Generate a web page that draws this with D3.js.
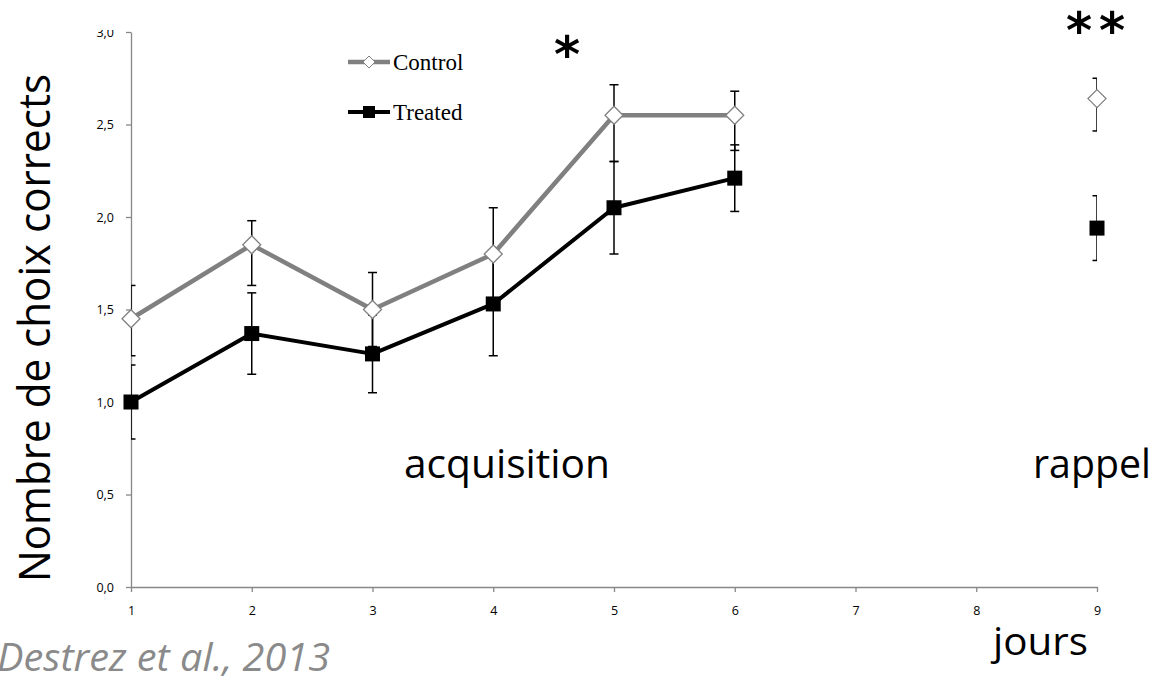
<!DOCTYPE html>
<html>
<head>
<meta charset="utf-8">
<title>Nombre de choix corrects</title>
<script src="https://d3js.org/d3.v7.min.js"></script>
<style>
  * { margin: 0; padding: 0; }
  body { background: #fff; }
  svg { display: block; }
</style>
</head>
<body>
<div id="chart"></div>
<script>
// valeurs
const days = [1, 2, 3, 4, 5, 6, 9];
const control = [1.45, 1.85, 1.50, 1.80, 2.55, 2.55, 2.64];
const controlErrUp = [0.18, 0.13, 0.20, 0.25, 0.165, 0.13, 0.11];
const controlErrDown = [0.20, 0.22, 0.20, 0.25, 0.25, 0.19, 0.175];
const treated = [1.00, 1.37, 1.26, 1.53, 2.05, 2.21, 1.94];
const treatedErrUp = [0.20, 0.22, 0.21, 0.27, 0.25, 0.18, 0.175];
const treatedErrDown = [0.20, 0.22, 0.21, 0.28, 0.25, 0.18, 0.175];
const acquisitionDays = 6;   // la ligne s'arrête au jour 6
const xTicks = [1, 2, 3, 4, 5, 6, 7, 8, 9];
const yTicks = [0, 0.5, 1, 1.5, 2, 2.5, 3];

const width = 1153, height = 685;
const axisColor = "#878787";

const svg = d3.select("#chart").append("svg")
  .attr("width", width)
  .attr("height", height);

const x = d3.scaleLinear().domain([1, 9]).range([131, 1097]);
const y = d3.scaleLinear().domain([0, 3]).range([587, 32]);

const defs = svg.append("defs");
defs.append("clipPath").attr("id", "clipTop")
  .append("rect").attr("x", 0).attr("y", 30).attr("width", width).attr("height", height);
defs.append("clipPath").attr("id", "clipPlot")
  .append("rect").attr("x", x(1)).attr("y", 0).attr("width", x(9) - x(1)).attr("height", height);

const chart = svg.append("g").attr("clip-path", "url(#clipTop)");

const fmt = d => d.toFixed(1).replace(".", ",");

// axes
const yAxis = chart.append("g")
  .attr("transform", `translate(${x(1)},0)`)
  .call(d3.axisLeft(y).tickValues(yTicks).tickFormat(fmt).tickSize(5).tickSizeOuter(0).tickPadding(12));
const xAxis = chart.append("g")
  .attr("transform", `translate(0,${y(0)})`)
  .call(d3.axisBottom(x).tickValues(xTicks).tickFormat(d3.format("d")).tickSize(5).tickSizeOuter(0).tickPadding(14));

[xAxis, yAxis].forEach(g => {
  g.selectAll("path, line").attr("stroke", axisColor).attr("stroke-width", 1.3);
  g.selectAll("text")
    .attr("fill", "#000")
    .style("font-family", "'Open Sans', sans-serif")
    .style("font-size", "12.5px");
});

// séries
const series = [
  { name: "Control", values: control, up: controlErrUp, down: controlErrDown, color: "#808080", width: 4.5 },
  { name: "Treated", values: treated, up: treatedErrUp, down: treatedErrDown, color: "#000000", width: 4 }
];
series.forEach(s => {
  s.points = days.map((d, i) => ({ day: d, v: s.values[i], lo: s.values[i] - s.down[i], hi: s.values[i] + s.up[i] }));
});

const line = d3.line().x(d => x(d.day)).y(d => y(d.v));

chart.selectAll(".serie-line")
  .data(series)
  .join("path")
  .attr("class", "serie-line")
  .attr("fill", "none")
  .attr("stroke", s => s.color)
  .attr("stroke-width", s => s.width)
  .attr("stroke-linejoin", "round")
  .attr("d", s => line(s.points.filter(p => p.day <= acquisitionDays)));

// barres d'erreur (coupées au bord de la zone de tracé)
const errG = chart.append("g").attr("clip-path", "url(#clipPlot)");
const cap = 4.5;
series.forEach(s => {
  const g = errG.append("g").attr("stroke", "#000").attr("stroke-width", 1.5);
  s.points.forEach(p => {
    const px = x(p.day);
    g.append("line").attr("x1", px).attr("x2", px).attr("y1", y(p.lo)).attr("y2", y(p.hi));
    g.append("line").attr("x1", px - cap).attr("x2", px + cap).attr("y1", y(p.lo)).attr("y2", y(p.lo));
    g.append("line").attr("x1", px - cap).attr("x2", px + cap).attr("y1", y(p.hi)).attr("y2", y(p.hi));
  });
});

// marqueurs
const diamond = r => `M0,${-r}L${r},0L0,${r}L${-r},0Z`;
chart.selectAll(".m-control")
  .data(series[0].points)
  .join("path")
  .attr("class", "m-control")
  .attr("transform", d => `translate(${x(d.day)},${y(d.v)})`)
  .attr("d", diamond(9))
  .attr("fill", "#fff")
  .attr("stroke", "#808080")
  .attr("stroke-width", 1.3);
chart.selectAll(".m-treated")
  .data(series[1].points)
  .join("rect")
  .attr("class", "m-treated")
  .attr("x", d => x(d.day) - 7.5)
  .attr("y", d => y(d.v) - 7.5)
  .attr("width", 15)
  .attr("height", 15)
  .attr("fill", "#000");

// légende
const legend = svg.append("g");
const legendY = [62, 112];
series.forEach((s, i) => {
  const g = legend.append("g").attr("transform", `translate(348,${legendY[i]})`);
  g.append("line").attr("x1", 0).attr("x2", 42).attr("y1", 0).attr("y2", 0)
    .attr("stroke", s.color).attr("stroke-width", s.width);
  if (i === 0) {
    g.append("path").attr("transform", "translate(21,0)").attr("d", diamond(6))
      .attr("fill", "#fff").attr("stroke", "#808080").attr("stroke-width", 1);
  } else {
    g.append("rect").attr("x", 15).attr("y", -6).attr("width", 12).attr("height", 12).attr("fill", "#000");
  }
  g.append("text").attr("x", 45).attr("y", 8)
    .style("font-family", "'Liberation Serif', 'Times New Roman', serif")
    .style("font-size", "23px")
    .text(s.name);
});

// textes
const sans = "'Open Sans', 'Noto Sans', sans-serif";
svg.append("text")
  .attr("transform", "translate(50,582) rotate(-90)")
  .attr("textLength", 508).attr("lengthAdjust", "spacingAndGlyphs")
  .style("font-family", sans).style("font-size", "44px")
  .text("Nombre de choix corrects");

svg.append("text").attr("x", 404).attr("y", 478)
  .attr("textLength", 206).attr("lengthAdjust", "spacingAndGlyphs")
  .style("font-family", sans).style("font-size", "41px")
  .text("acquisition");
svg.append("text").attr("x", 1033).attr("y", 478)
  .attr("textLength", 118).attr("lengthAdjust", "spacingAndGlyphs")
  .style("font-family", sans).style("font-size", "41px")
  .text("rappel");
svg.append("text").attr("x", 993).attr("y", 655)
  .attr("textLength", 95).attr("lengthAdjust", "spacingAndGlyphs")
  .style("font-family", sans).style("font-size", "39px")
  .text("jours");
svg.append("text").attr("x", -3).attr("y", 671)
  .attr("textLength", 333).attr("lengthAdjust", "spacingAndGlyphs")
  .style("font-family", sans).style("font-size", "38px").style("font-style", "italic")
  .attr("fill", "#8a8a8a")
  .text("Destrez et al., 2013");

// astérisques
const star = "'DejaVu Sans', sans-serif";
svg.append("text").attr("x", 567).attr("y", 72).attr("text-anchor", "middle")
  .style("font-family", star).style("font-size", "50px").style("font-weight", "bold")
  .text("*");
svg.append("text").attr("x", 1079).attr("y", 48).attr("text-anchor", "middle")
  .style("font-family", star).style("font-size", "50px").style("font-weight", "bold")
  .text("*");
svg.append("text").attr("x", 1112).attr("y", 48).attr("text-anchor", "middle")
  .style("font-family", star).style("font-size", "50px").style("font-weight", "bold")
  .text("*");
</script>
</body>
</html>
